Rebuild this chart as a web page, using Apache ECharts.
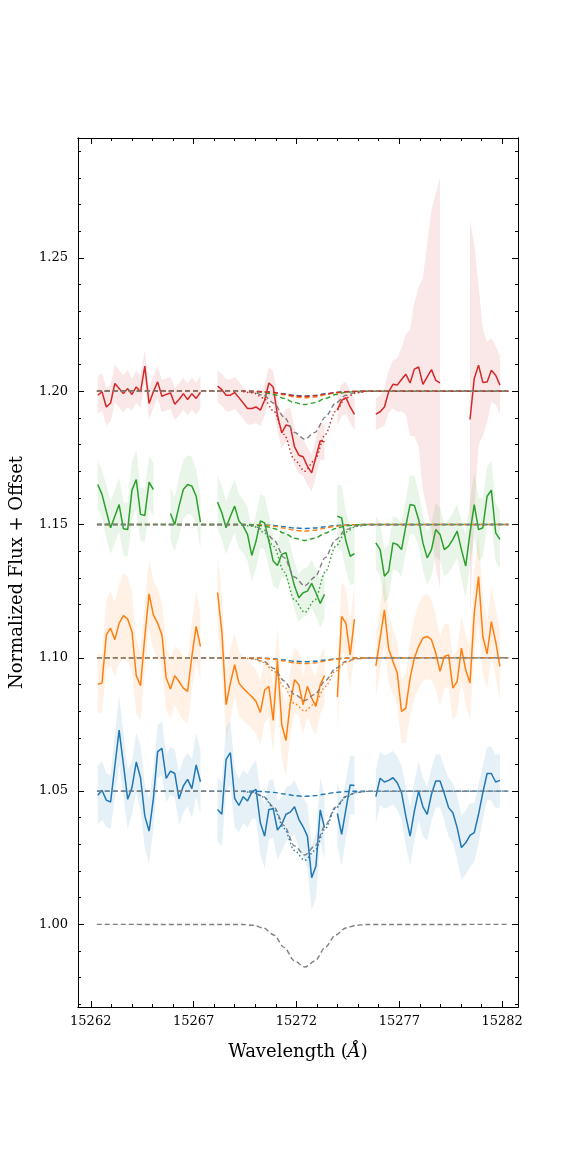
<!DOCTYPE html>
<html>
<head>
<meta charset="utf-8">
<script src="https://cdn.jsdelivr.net/npm/echarts@6/dist/echarts.min.js"></script>
<style>html,body{margin:0;padding:0;background:#fff}#chart{width:576px;height:1152px}</style>
</head>
<body>
<div id="chart"></div>
<script>
// spectral grid (0.208 A sampling), gaps are null
var waveStart = 15262.34, waveStep = 0.208, nPix = 95;
var wave = [];
for (var i = 0; i < nPix; i++) wave.push(+(waveStart + i * waveStep).toFixed(3));

var N = null;
var fluxBlue = [1.0484,1.0503,1.0466,1.0459,1.0594,1.0729,1.06,1.0469,1.0513,1.0609,1.055,1.0406,1.035,1.0471,1.0648,1.066,1.0548,1.0575,1.0566,1.0471,1.0519,1.0544,1.0509,1.0598,1.0535,
  N,N,N,
  1.0431,1.0413,1.0619,1.0644,1.0473,1.0446,1.0479,1.0463,1.0496,1.0506,1.0381,1.0331,1.0431,1.0434,1.0354,1.0375,1.0413,1.0421,1.0441,1.0394,1.0366,1.0331,1.0175,1.0219,1.0429,1.0363,
  N,N,
  1.0416,1.0338,1.0431,1.0523,1.0521,
  N,N,N,N,
  1.0479,1.0548,1.0534,1.054,1.055,1.0531,1.0494,1.0406,1.0331,1.0425,1.05,1.0441,1.0413,1.0488,1.0538,1.0538,1.0491,1.0438,1.0419,1.0363,1.0288,1.0306,1.0334,1.0344,1.0413,1.0494,1.0566,1.0566,1.0534,1.054];
var fluxOrange = [1.0901,1.0905,1.1086,1.1111,1.1068,1.113,1.1158,1.1145,1.1099,1.0933,1.0895,1.108,1.124,1.1161,1.113,1.1086,1.0924,1.0883,1.0933,1.0911,1.0886,1.0874,1.1005,1.1118,1.1043,
  N,N,N,
  1.1245,1.1099,1.0824,1.0905,1.0974,1.0905,1.0886,1.087,1.0855,1.0836,1.0795,1.0878,1.0893,1.0765,1.099,1.075,1.069,1.083,1.0918,1.0899,1.0824,1.0893,1.0849,1.0818,1.0899,1.0933,
  N,N,
  1.0853,1.1155,1.113,1.1011,1.1145,
  N,N,N,N,
  1.097,1.1074,1.118,1.1033,1.0986,1.0943,1.0799,1.0811,1.0924,1.0999,1.1043,1.1074,1.108,1.1068,1.1018,1.0949,1.1005,1.1011,1.0886,1.0911,1.1036,1.0955,1.0905,1.1168,1.1305,1.108,1.1015,1.1136,1.1061,1.0968];
var fluxGreen = [1.165,1.1613,1.155,1.1488,1.1531,1.1575,1.1484,1.1481,1.1629,1.1669,1.1538,1.1534,1.1659,1.1631,
  N,N,N,
  1.1541,1.15,1.1569,1.1631,1.165,1.1644,1.1606,1.1509,
  N,N,N,
  1.1584,1.1544,1.1488,1.1531,1.1569,1.1513,1.1494,1.1463,1.1384,1.1438,1.1513,1.1506,1.1438,1.1363,1.1346,1.1388,1.1394,1.1331,1.1269,1.1225,1.1244,1.125,1.1279,1.1244,1.1204,1.1238,
  N,N,
  1.1531,1.1525,1.1438,1.1381,1.1391,
  N,N,N,N,
  1.1431,1.1406,1.1306,1.1325,1.1431,1.1425,1.1406,1.1494,1.1575,1.1571,1.1519,1.1431,1.1375,1.1406,1.1481,1.1463,1.1406,1.1419,1.1444,1.1475,1.1406,1.1344,1.1469,1.1575,1.1481,1.1488,1.1606,1.1629,1.1469,1.1444];
var fluxRed = [1.1985,1.1998,1.1941,1.1956,1.2029,1.201,1.1991,1.201,1.1988,1.2016,1.1998,1.2094,1.1954,1.1998,1.2035,1.1981,1.1988,1.1994,1.1951,1.1969,1.1991,1.1969,1.1991,1.1973,1.1996,
  N,N,N,
  1.2019,1.2006,1.1985,1.1985,1.1995,1.1976,1.1956,1.1935,1.1935,1.1941,1.1929,1.1966,1.2031,1.2016,1.191,1.1844,1.1873,1.1869,1.1791,1.176,1.1754,1.1719,1.1694,1.1754,1.1814,1.181,
  N,N,
  1.1929,1.1966,1.1976,1.1941,1.1913,
  N,N,N,N,
  1.1914,1.1923,1.1941,1.1998,1.2026,1.2023,1.2044,1.2064,1.2031,1.2083,1.2091,1.2026,1.2054,1.2081,1.2041,1.2031,
  N,N,N,N,N,N,
  1.1894,1.2048,1.2098,1.2033,1.2035,1.2079,1.206,1.2023];

var errBlue = [.011,.011,.01,.01,.012,.013,.012,.011,.01,.011,.012,.012,.012,.011,.01,.01,.009,.009,.009,.01,.01,.01,.011,.012,.012,
  0,0,0,
  .012,.012,.012,.012,.011,.01,.01,.01,.01,.011,.012,.012,.011,.011,.011,.01,.01,.01,.01,.011,.011,.012,.012,.012,.012,.012,
  0,0,
  .012,.012,.011,.011,.011,
  0,0,0,0,
  .01,.01,.01,.01,.01,.01,.01,.011,.011,.011,.011,.011,.01,.01,.01,.01,.01,.011,.011,.012,.012,.012,.012,.011,.011,.01,.01,.01,.01,.01];
var errOrange = [.011,.011,.013,.014,.014,.015,.016,.016,.015,.014,.013,.013,.013,.013,.013,.012,.012,.011,.011,.012,.012,.012,.013,.013,.013,
  0,0,0,
  .014,.014,.013,.013,.012,.012,.012,.012,.012,.012,.012,.012,.012,.012,.013,.013,.013,.012,.012,.012,.011,.011,.011,.011,.011,.011,
  0,0,
  .013,.013,.013,.013,.013,
  0,0,0,0,
  .012,.012,.013,.013,.012,.012,.012,.013,.014,.015,.016,.016,.016,.015,.014,.013,.012,.012,.012,.012,.012,.013,.014,.015,.016,.014,.013,.013,.013,.013];
var errGreen = [.009,.009,.01,.01,.01,.01,.01,.01,.011,.011,.01,.01,.01,.01,
  0,0,0,
  .01,.01,.011,.011,.011,.011,.01,.01,
  0,0,0,
  .01,.01,.01,.01,.01,.01,.01,.01,.01,.01,.01,.01,.01,.009,.009,.009,.009,.009,.009,.009,.009,.009,.009,.009,.009,.009,
  0,0,
  .012,.012,.011,.011,.011,
  0,0,0,0,
  .01,.01,.01,.01,.01,.01,.01,.01,.011,.011,.01,.01,.01,.01,.01,.01,.01,.01,.01,.01,.011,.012,.012,.012,.012,.011,.011,.011,.011,.011];
var errRed = [.007,.007,.007,.007,.007,.007,.007,.007,.006,.006,.006,.006,.006,.006,.006,.006,.006,.006,.006,.006,.006,.006,.006,.006,.006,
  0,0,0,
  .006,.006,.006,.006,.006,.006,.006,.006,.006,.006,.006,.006,.006,.006,.006,.006,.006,.007,.007,.007,.007,.007,.007,.007,.007,.007,
  0,0,
  .006,.006,.006,.006,.006,
  0,0,0,0,
  .006,.006,.007,.008,.009,.01,.012,.015,.02,.025,.03,.04,.05,.06,.07,.077,
  0,0,0,0,0,0,
  .075,.05,.03,.02,.015,.012,.011,.011];

// model profiles: half curves (edge -> line centre), mirrored below
var modelWave = [15262.3,15269.4,15269.9,15270.4,15270.9,15271.4,15271.9,15272.4,15272.9,15273.4,15273.9,15274.4,15274.9,15275.4,15282.3];
var greyBase   = [1, .99994, .99966, .99864, .996, .99136, .98629, .984];
var redGrey    = [1.2, 1.19993, 1.19962, 1.19847, 1.1955, 1.19028, 1.18457, 1.182];
var redDot     = [1.2, 1.19988, 1.19937, 1.19745, 1.1925, 1.1838, 1.17429, 1.170];
var redGreenD  = [1.2, 1.19998, 1.1999, 1.19958, 1.19875, 1.1973, 1.19572, 1.195];
var redOrangeD = [1.2, 1.2, 1.19995, 1.19979, 1.19938, 1.19865, 1.19786, 1.1975];
var redRedD    = [1.2, 1.2, 1.19996, 1.19983, 1.1995, 1.19892, 1.19829, 1.198];
var redBlueD   = [1.2, 1.2, 1.19996, 1.19985, 1.19955, 1.19903, 1.19846, 1.1982];
var grnGrey    = [1.15, 1.14991, 1.14952, 1.14805, 1.14425, 1.13758, 1.13029, 1.127];
var grnDot     = [1.15, 1.14987, 1.14931, 1.1472, 1.14175, 1.13218, 1.12172, 1.117];
var grnGreenD  = [1.15, 1.14998, 1.14987, 1.14949, 1.1485, 1.14676, 1.14486, 1.144];
var grnOrangeD = [1.15, 1.15, 1.14995, 1.14979, 1.14938, 1.14865, 1.14786, 1.1475];
var grnBlueD   = [1.15, 1.15, 1.14997, 1.14987, 1.14963, 1.14919, 1.14871, 1.1485];
var orgGrey    = [1.1, 1.09994, 1.09966, 1.09864, 1.096, 1.09136, 1.08629, 1.084];
var orgDot     = [1.1, 1.09992, 1.09958, 1.0983, 1.095, 1.0892, 1.08286, 1.080];
var orgOrangeD = [1.1, 1.1, 1.09995, 1.09981, 1.09945, 1.09881, 1.09811, 1.0978];
var orgBlueD   = [1.1, 1.1, 1.09997, 1.09987, 1.09963, 1.09919, 1.09871, 1.0985];
var bluGrey    = [1.05, 1.0499, 1.0495, 1.04796, 1.044, 1.03704, 1.02943, 1.026];
var bluDot     = [1.05, 1.0499, 1.04945, 1.04779, 1.0435, 1.03596, 1.02772, 1.024];
var bluBlueD   = [1.05, 1.05, 1.04996, 1.04983, 1.0495, 1.04892, 1.04829, 1.048];

var xMajor = [15262, 15267, 15272, 15277, 15282];
var xMinor = [15262,15263,15264,15265,15266,15267,15268,15269,15270,15271,15272,15273,15274,15275,15276,15277,15278,15279,15280,15281,15282];
var yMajor = [1.00, 1.05, 1.10, 1.15, 1.20, 1.25];
var yMinor = [0.97,0.98,0.99,1.00,1.01,1.02,1.03,1.04,1.05,1.06,1.07,1.08,1.09,1.10,1.11,1.12,1.13,1.14,1.15,1.16,1.17,1.18,1.19,1.20,1.21,1.22,1.23,1.24,1.25,1.26,1.27,1.28,1.29];

var C = { blue: '#1f77b4', orange: '#ff7f0e', green: '#2ca02c', red: '#d62728', grey: '#7f7f7f' };
var FONT = 'DejaVu Serif';

function mirror(half) {
  var out = half.slice();
  for (var k = half.length - 2; k >= 0; k--) out.push(half[k]);
  return out;
}

function specLine(flux, color) {
  return {
    type: 'line', showSymbol: false, silent: true, z: 5,
    lineStyle: { color: color, width: 1.5 },
    data: wave.map(function(w, i) { return [w, flux[i] == null ? '-' : flux[i]]; })
  };
}

function modelLine(half, color, dotted) {
  var vals = mirror(half);
  var pts = modelWave.map(function(w, i) { return [w, vals[i]]; });
  if (dotted) pts = pts.slice(1, pts.length - 1);
  return {
    type: 'line', showSymbol: false, silent: true, smooth: 0.3, smoothMonotone: 'x', z: 6,
    lineStyle: { color: color, width: 1.4, type: dotted ? [1.5, 2.5] : [5, 3] },
    data: pts
  };
}

function band(flux, err, color) {
  var segs = [], s = -1;
  for (var i = 0; i <= nPix; i++) {
    var ok = i < nPix && flux[i] != null;
    if (ok && s < 0) s = i;
    if (!ok && s >= 0) { segs.push([s, i - 1]); s = -1; }
  }
  return {
    type: 'custom', silent: true, z: 1,
    data: segs.map(function(sg) { return [wave[sg[0]], wave[sg[1]]]; }),
    renderItem: function(params, api) {
      var sg = segs[params.dataIndex], pts = [], j;
      for (j = sg[0]; j <= sg[1]; j++) pts.push(api.coord([wave[j], flux[j] + err[j]]));
      for (j = sg[1]; j >= sg[0]; j--) pts.push(api.coord([wave[j], flux[j] - err[j]]));
      return { type: 'polygon', shape: { points: pts }, style: { fill: color, opacity: 0.11 } };
    }
  };
}

var chart = echarts.init(document.getElementById('chart'), null, { renderer: 'canvas' });

var gridLine = { show: true, onZero: false, lineStyle: { color: '#000', width: 1 } };
function xAx(pos, vals, len, labels) {
  return {
    type: 'value', min: 15261.38, max: 15282.77, position: pos, offset: 0,
    axisLine: gridLine, splitLine: { show: false },
    axisTick: { show: true, inside: true, length: len, customValues: vals, lineStyle: { color: '#000' } },
    axisLabel: labels ? { show: true, customValues: xMajor, formatter: function(v) { return String(v); }, fontFamily: FONT, fontSize: 13, color: '#000', margin: 8 } : { show: false }
  };
}
function yAx(pos, vals, len, labels) {
  return {
    type: 'value', min: 0.969, max: 1.295, position: pos, offset: 0,
    axisLine: gridLine, splitLine: { show: false },
    axisTick: { show: true, inside: true, length: len, customValues: vals, lineStyle: { color: '#000' } },
    axisLabel: labels ? { show: true, customValues: yMajor, formatter: function(v) { return v.toFixed(2); }, fontFamily: FONT, fontSize: 13, color: '#000', margin: 10 } : { show: false }
  };
}

var xs = [xAx('bottom', xMajor, 6, true), xAx('top', xMajor, 6, false), xAx('bottom', xMinor, 3, false), xAx('top', xMinor, 3, false)];
xs[0].name = 'Wavelength ({i|Å})';
xs[0].nameLocation = 'middle';
xs[0].nameGap = 36;
xs[0].nameTextStyle = { fontFamily: FONT, fontSize: 18, color: '#000', rich: { i: { fontFamily: FONT, fontStyle: 'italic', fontSize: 18 } } };
var ys = [yAx('left', yMajor, 6, true), yAx('right', yMajor, 6, false), yAx('left', yMinor, 3, false), yAx('right', yMinor, 3, false)];
ys[0].name = 'Normalized Flux + Offset';
ys[0].nameLocation = 'middle';
ys[0].nameGap = 52;
ys[0].nameTextStyle = { fontFamily: FONT, fontSize: 18, color: '#000' };

var series = [
  band(fluxBlue, errBlue, C.blue), band(fluxOrange, errOrange, C.orange),
  band(fluxGreen, errGreen, C.green), band(fluxRed, errRed, C.red),
  specLine(fluxBlue, C.blue), specLine(fluxOrange, C.orange),
  specLine(fluxGreen, C.green), specLine(fluxRed, C.red),
  modelLine(greyBase, C.grey, false),
  modelLine(bluBlueD, C.blue, false), modelLine(bluGrey, C.grey, false), modelLine(bluDot, C.blue, true),
  modelLine(orgBlueD, C.blue, false), modelLine(orgOrangeD, C.orange, false), modelLine(orgGrey, C.grey, false), modelLine(orgDot, C.orange, true),
  modelLine(grnBlueD, C.blue, false), modelLine(grnOrangeD, C.orange, false), modelLine(grnGreenD, C.green, false), modelLine(grnGrey, C.grey, false), modelLine(grnDot, C.green, true),
  modelLine(redBlueD, C.blue, false), modelLine(redOrangeD, C.orange, false), modelLine(redGreenD, C.green, false), modelLine(redRedD, C.red, false), modelLine(redGrey, C.grey, false), modelLine(redDot, C.red, true)
];

chart.setOption({
  animation: false,
  backgroundColor: '#fff',
  grid: { left: 72, right: 58, top: 138, bottom: 145, containLabel: false },
  xAxis: xs,
  yAxis: ys,
  series: series
});
</script>
</body>
</html>
